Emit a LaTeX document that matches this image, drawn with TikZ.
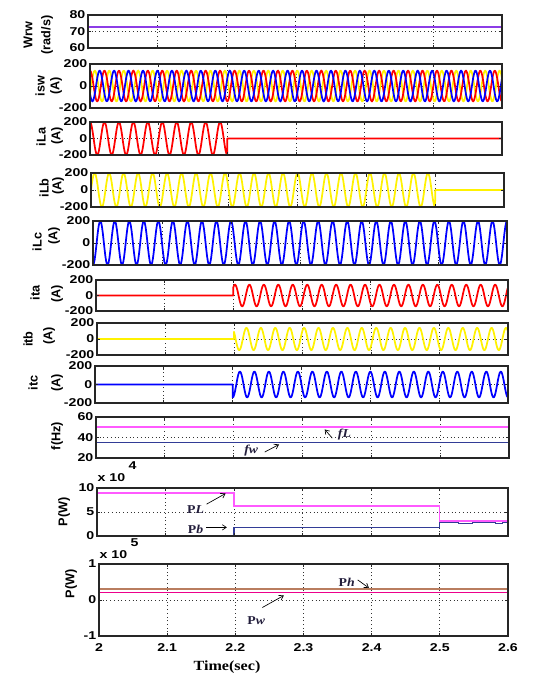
\documentclass[tikz,border=0pt]{standalone}
\usepackage{fontspec}
\usetikzlibrary{arrows.meta}
\newfontfamily\axisfont[FakeStretch=1.25]{Liberation Sans}
\newfontfamily\namefont{Liberation Sans}
\newfontfamily\notefont[FakeStretch=1.15]{Liberation Serif}
\definecolor{rotorpurple}{RGB}{140,60,230}
\definecolor{loadmagenta}{RGB}{255,90,255}
\definecolor{windnavy}{RGB}{50,60,150}
\definecolor{hydrobrown}{RGB}{185,125,95}
\definecolor{noteink}{RGB}{35,30,60}

% name, left, right, top, bottom (pixels), tick labels top/mid/bottom, curves
\newcommand{\plotbox}[9]{%
  \begin{scope}[panel={#2}{#3}{#4}{#5}]
    \pgfmathsetmacro\tky{3/(#5-#4)}
    \pgfmathsetmacro\tkx{1.8/(#3-#2)}
    \foreach \k in {1,...,5} \draw[gridline] (\k/10,0) -- (\k/10,1);
    \draw[gridline] (0,0.5) -- (0.6,0.5);
    #9
    \foreach \k in {1,...,5} \draw[tickmark] (\k/10,0) -- (\k/10,\tky) (\k/10,1) -- (\k/10,1-\tky);
    \draw[tickmark] (0,0.5) -- (\tkx,0.5) (0.6,0.5) -- (0.6-\tkx,0.5);
    \draw[frame] (0,0) rectangle (0.6,1);
    \node[ticklab] (#1top) at (0,1) {#6};
    \node[ticklab] (#1mid) at (0,0.5) {#7};
    \node[ticklab] (#1bot) at (0,0) {#8};
  \end{scope}}

\begin{document}
\begin{tikzpicture}[
    x=0.75pt, y=-0.75pt,
    panel/.style n args={4}{shift={(#1,#4)}, xscale={(#2-#1)/0.6}, yscale={-(#4-#3)}},
    frame/.style={draw=black!85, line width=0.9pt},
    gridline/.style={black!80, line width=0.6pt, dash pattern=on 0.6pt off 2.2pt},
    tickmark/.style={black!85, line width=0.7pt},
    wave/.style={line width=1.3pt, line join=round},
    ticklab/.style={font=\fontsize{8.5}{9}\selectfont\axisfont\bfseries, inner sep=0pt, outer sep=2pt, anchor=east},
    xlab/.style={font=\fontsize{8.5}{9}\selectfont\axisfont\bfseries, inner sep=0pt},
    ylab/.style={font=\fontsize{9.5}{10}\selectfont\namefont\bfseries, rotate=90, inner sep=0pt},
    timelab/.style={font=\fontsize{10.5}{11}\selectfont\notefont\bfseries, inner sep=0pt},
    note/.style={font=\fontsize{9}{10}\selectfont\notefont\bfseries, text=noteink, inner sep=0pt},
    pointer/.style={-{Straight Barb[length=3pt, width=4pt]}, line width=0.5pt, black}
]
    \useasboundingbox (0,0) rectangle (545,675);
    \fill[white] (0,0) rectangle (545,675);

    % rotor speed
    \plotbox{wrw}{88}{502}{15}{48}{80}{70}{60}{
        \draw[rotorpurple, line width=1.6pt] (0,0.625) -- (0.6,0.625);
    }
    \node[ylab] (wrwname) at (28,35) {Wrw};
    \node[ylab] (wrwunit) at (47,35) {(rad/s)};

    % stator currents
    \plotbox{isw}{90}{502}{64}{108}{200}{0}{-200}{
        \draw[wave, yellow] plot[domain=0:0.6, samples=500] (\x, {0.5+0.35*cos(47.5*\x*360-120)});
        \draw[wave, red] plot[domain=0:0.6, samples=500] (\x, {0.5+0.35*cos(47.5*\x*360)});
        \draw[wave, blue] plot[domain=0:0.6, samples=500] (\x, {0.5+0.35*cos(47.5*\x*360+120)});
    }
    \node[ylab] (iswname) at (40,86) {isw};
    \node[ylab] (iswunit) at (56,86) {(A)};

    % load currents
    \plotbox{ila}{90}{502}{122}{155}{200}{0}{-200}{
        \draw[wave, red] plot[domain=0:0.2, samples=170] (\x, {0.5+0.5*cos(47.5*\x*360)}) -- (0.2,0.5) -- (0.6,0.5);
    }
    \node[ylab] (ilaname) at (41,137) {iLa};
    \node[ylab] (ilaunit) at (57,136) {(A)};

    \plotbox{ilb}{91}{504}{173}{207}{200}{0}{-200}{
        \draw[wave, yellow] plot[domain=0:0.5, samples=420] (\x, {0.5+0.5*sin(47.5*\x*360)}) -- (0.5,0.5) -- (0.6,0.5);
    }
    \node[ylab] (ilbname) at (44,188) {iLb};
    \node[ylab] (ilbunit) at (58,186) {(A)};

    \plotbox{ilc}{93}{507}{221}{265}{200}{0}{-200}{
        \draw[wave, blue] plot[domain=0:0.6, samples=500] (\x, {0.5-0.5*cos(47.5*\x*360)});
    }
    \node[ylab] (ilcname) at (37,242) {iLc};
    \node[ylab] (ilcunit) at (54,236) {(A)};

    % inverter currents
    \plotbox{ita}{96}{508}{280}{311}{200}{0}{-200}{
        \draw[wave, red] (0,0.5) -- (0.2,0.5) -- plot[domain=0.2:0.6, samples=340] (\x, {0.5+0.35*cos(47.5*(\x-0.2)*360-40)});
    }
    \node[ylab] (itaname) at (35,293) {ita};
    \node[ylab] (itaunit) at (57,294) {(A)};

    \plotbox{itb}{97}{508}{323}{355}{200}{0}{-200}{
        \draw[wave, yellow] (0,0.5) -- (0.2,0.5) -- plot[domain=0.2:0.6, samples=340] (\x, {0.5+0.35*cos(47.5*(\x-0.2)*360+50)});
    }
    \node[ylab] (itbname) at (28,339) {itb};
    \node[ylab] (itbunit) at (49,336) {(A)};

    \plotbox{itc}{95}{508}{366}{403}{200}{0}{-200}{
        \draw[wave, blue] (0,0.5) -- (0.2,0.5) -- plot[domain=0.2:0.6, samples=340] (\x, {0.5+0.35*cos(47.5*(\x-0.2)*360+180)});
    }
    \node[ylab] (itcname) at (33,383) {itc};
    \node[ylab] (itcunit) at (57,383) {(A)};

    % frequencies
    \plotbox{freq}{96}{509}{417}{458}{60}{40}{20}{
        \draw[windnavy, line width=0.8pt] (0,0.375) -- (0.6,0.375);
        \draw[loadmagenta, line width=1.3pt] (0,0.75) -- (0.6,0.75);
        \node[note] (fwlab) at (0.2256,0.18) {\itshape fw};
        \coordinate (fwtail) at (0.2456,0.145);
        \coordinate (fwtip) at (0.2665,0.33);
        \draw[pointer] (fwtail) -- (fwtip);
        \node[note] (fLlab) at (0.361,0.575) {\itshape fL};
        \coordinate (fLtail) at (0.344,0.485);
        \coordinate (fLtip) at (0.333,0.697);
        \draw[pointer] (fLtail) -- (fLtip);
    }
    \node[ylab] (freqname) at (57,436) {f(Hz)};

    % load and battery power
    \plotbox{pwra}{97}{508}{488}{536}{10}{5}{0}{
        \draw[windnavy, line width=0.8pt] (0,0) -- (0.2,0) -- (0.2,0.17) -- (0.5,0.17) -- (0.5,0.285)
            -- (0.528,0.285) -- (0.528,0.255) -- (0.548,0.255) -- (0.548,0.285)
            -- (0.582,0.285) -- (0.582,0.255) -- (0.592,0.255) -- (0.592,0.285) -- (0.6,0.285);
        \draw[loadmagenta, line width=1.3pt] (0,0.9) -- (0.2,0.9) -- (0.2,0.62) -- (0.5,0.62) -- (0.5,0.32) -- (0.6,0.32);
        \node[note] (PLlab) at (0.144,0.554) {P\textit{L}};
        \coordinate (PLtail) at (0.161,0.663);
        \coordinate (PLtip) at (0.189,0.886);
        \draw[pointer] (PLtail) -- (PLtip);
        \node[note] (Pblab) at (0.144,0.134) {P\textit{b}};
        \coordinate (Pbtail) at (0.16,0.18);
        \coordinate (Pbtip) at (0.191,0.18);
        \draw[pointer] (Pbtail) -- (Pbtip);
    }
    \node[ylab] (pwraname) at (64,512) {P(W)};
    \node[ticklab, anchor=west] (pwraexp) at (95,478) {x 10};
    \node[ticklab, anchor=west] (pwraexpnum) at (126,466) {4};

    % wind and hydro power
    \plotbox{pwrb}{99}{508}{564}{636}{1}{0}{-1}{
        \draw[magenta, line width=0.8pt] (0,0.6) -- (0.6,0.6);
        \draw[hydrobrown, line width=1.1pt] (0,0.655) -- (0.6,0.655);
        \node[note] (Phlab) at (0.3635,0.743) {P\textit{h}};
        \coordinate (Phtail) at (0.38,0.78);
        \coordinate (Phtip) at (0.3965,0.667);
        \draw[pointer] (Phtail) -- (Phtip);
        \node[note] (Pwlab) at (0.2306,0.216) {P\textit{w}};
        \coordinate (Pwtail) at (0.24,0.396);
        \coordinate (Pwtip) at (0.2715,0.563);
        \draw[pointer] (Pwtail) -- (Pwtip);
    }
    \node[ylab] (pwrbname) at (71,584) {P(W)};
    \node[ticklab, anchor=west] (pwrbexp) at (97,555) {x 10};
    \node[ticklab, anchor=west] (pwrbexpnum) at (128,543) {5};

    % time axis
    \foreach \k/\lab in {0/2, 1/2.1, 2/2.2, 3/2.3, 4/2.4, 5/2.5, 6/2.6}
        \node[xlab] (xt\k) at ({99+409*\k/6},648) {\lab};
    \node[timelab] (timeaxis) at (227,667) {Time(sec)};
\end{tikzpicture}
\end{document}
